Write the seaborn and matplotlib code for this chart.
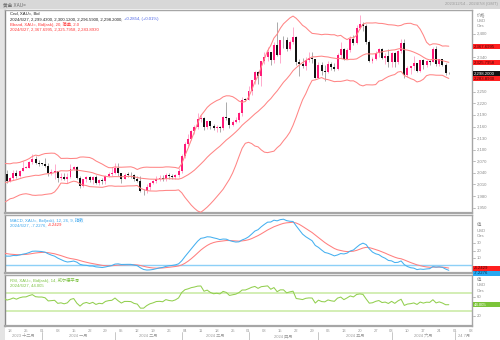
import numpy as np
import pandas as pd
import matplotlib
matplotlib.use("Agg")
import matplotlib.pyplot as plt
import seaborn as sns
from matplotlib.patches import Rectangle
from matplotlib.lines import Line2D

sns.set_style("white")
plt.rcParams["font.family"] = ["Liberation Sans", "Noto Sans CJK SC", "DejaVu Sans"]

# ---------------- data ----------------
# warm-up closes (2023-10-02 .. 2023-12-13) used only for indicator history
warm_close = [1828, 1822, 1821, 1820, 1833, 1862, 1861, 1874, 1868, 1932,
              1920, 1923, 1947, 1974, 1981, 1973, 1971, 1979, 1985, 2006,
              1996, 1983, 1982, 1985, 1992, 1978, 1970, 1950, 1958, 1940,
              1946, 1963, 1959, 1981, 1981, 1978, 2000, 1990, 1992, 2002,
              2014, 2041, 2044, 2036, 2072, 2029, 2019, 2025, 2028, 2004,
              1981, 1980, 2027]

start_date = "2023-12-14"
end_date = "2024-06-27"
axis_end_date = "2024-07-08"

opens = [2027, 2036, 2019, 2027, 2040, 2031, 2045, 2053, 2054, 2067, 2077, 2065,
         2063, 2063, 2059, 2041, 2043, 2045, 2027, 2030, 2024, 2029, 2049, 2055,
         2028, 2006, 2023, 2029, 2021, 2029, 2014, 2021, 2018, 2032, 2037,
         2039, 2054, 2039, 2025, 2035, 2035, 2034, 2024, 2020, 1992, 1992, 2004,
         2013, 2018, 2025, 2026, 2024, 2035, 2031, 2029, 2034,
         2044, 2083, 2115, 2128, 2148, 2160, 2179, 2182, 2158, 2174, 2162, 2155,
         2160, 2157, 2186, 2181, 2165, 2172, 2178, 2195, 2230,
         2230, 2251, 2280, 2300, 2290, 2329, 2339, 2352, 2333, 2372, 2344, 2383,
         2383, 2361, 2379, 2392, 2327, 2322, 2316, 2332, 2337, 2336,
         2286, 2320, 2304, 2301, 2323, 2314, 2309, 2346, 2360, 2336, 2358, 2386,
         2377, 2415, 2425, 2421, 2379, 2329, 2334, 2351, 2361, 2338, 2343,
         2327, 2350, 2327, 2355, 2376, 2294, 2311, 2316, 2325, 2304, 2333, 2319,
         2330, 2328, 2360, 2322, 2334, 2320, 2299.43]
highs = [2048, 2047, 2030, 2047, 2047, 2048, 2071, 2058, 2070, 2088, 2084, 2074,
         2065, 2078, 2065, 2050, 2064, 2046, 2041, 2040, 2040, 2062, 2059, 2057,
         2032, 2024, 2031, 2033, 2032, 2034, 2024, 2026, 2035, 2043, 2056,
         2065, 2066, 2040, 2039, 2043, 2042, 2036, 2031, 2031, 1999, 2011, 2016,
         2022, 2031, 2034, 2035, 2041, 2039, 2037, 2037, 2052,
         2088, 2119, 2141, 2152, 2165, 2195, 2189, 2185, 2175, 2175, 2167, 2164,
         2161, 2188, 2223, 2182, 2176, 2184, 2197, 2236, 2233,
         2266, 2281, 2305, 2304, 2331, 2354, 2365, 2354, 2378, 2431, 2385, 2394,
         2392, 2385, 2417, 2395, 2334, 2337, 2339, 2352, 2353, 2336,
         2326, 2326, 2319, 2331, 2326, 2324, 2351, 2378, 2364, 2363, 2394, 2396,
         2422, 2450, 2431, 2426, 2384, 2341, 2356, 2364, 2363, 2351, 2360,
         2354, 2353, 2359, 2387, 2388, 2316, 2318, 2342, 2325, 2333, 2335, 2333,
         2332, 2365, 2369, 2336, 2335, 2324, 2300.12]
lows = [2026, 2015, 2016, 2022, 2027, 2029, 2045, 2052, 2052, 2063, 2062, 2058,
        2061, 2056, 2031, 2034, 2024, 2017, 2022, 2021, 2013, 2028, 2047, 2024,
        2002, 2004, 2016, 2016, 2011, 2011, 2009, 2012, 2011, 2029, 2031,
        2037, 2031, 2014, 2023, 2030, 2027, 2019, 2017, 1990, 1984, 1988, 1996,
        2010, 2013, 2020, 2020, 2018, 2025, 2025, 2024, 2030,
        2039, 2079, 2109, 2124, 2142, 2153, 2173, 2150, 2154, 2154, 2152, 2146,
        2146, 2151, 2177, 2155, 2162, 2168, 2173, 2187, 2228,
        2229, 2241, 2269, 2269, 2266, 2321, 2329, 2319, 2325, 2342, 2324, 2364,
        2355, 2359, 2373, 2319, 2292, 2311, 2306, 2326, 2325, 2285,
        2285, 2293, 2277, 2298, 2307, 2303, 2307, 2338, 2332, 2335, 2352, 2370,
        2375, 2412, 2407, 2374, 2326, 2325, 2332, 2340, 2334, 2323, 2315,
        2315, 2314, 2323, 2351, 2287, 2288, 2297, 2306, 2301, 2302, 2310, 2314,
        2320, 2327, 2316, 2318, 2316, 2293, 2296.59]
closes = [2036, 2019, 2027, 2040, 2031, 2045, 2053, 2054, 2067, 2077, 2065, 2063,
          2063, 2059, 2041, 2043, 2045, 2027, 2030, 2024, 2029, 2049, 2055, 2028,
          2006, 2023, 2029, 2021, 2029, 2014, 2021, 2018, 2032, 2037, 2039,
          2054, 2039, 2025, 2035, 2035, 2034, 2024, 2020, 1992, 1992, 2004, 2013,
          2018, 2025, 2026, 2024, 2035, 2031, 2029, 2034, 2044,
          2083, 2115, 2128, 2148, 2160, 2179, 2182, 2158, 2174, 2162, 2155, 2160,
          2157, 2186, 2181, 2165, 2172, 2178, 2195, 2230, 2230,
          2251, 2280, 2300, 2290, 2329, 2339, 2352, 2333, 2372, 2344, 2383, 2383,
          2361, 2379, 2392, 2327, 2322, 2316, 2332, 2337, 2336, 2286,
          2320, 2304, 2301, 2323, 2314, 2309, 2346, 2360, 2336, 2358, 2386, 2377,
          2415, 2425, 2421, 2379, 2329, 2334, 2351, 2361, 2338, 2343, 2327,
          2350, 2327, 2355, 2376, 2294, 2311, 2316, 2325, 2304, 2333, 2319, 2330,
          2328, 2360, 2322, 2334, 2320, 2297.91, 2298.20]

# last values shown in legends / value boxes
price_last = [2299.4300, 2300.1200, 2296.5900, 2298.2000]
price_change = [0.2854, 0.01]
band_last = [2367.6995, 2325.7958, 2283.8930]
macd_last = [-7.2276, -4.2429]
rsi_last = 44.005

price_ticks = [1950, 1980, 2010, 2040, 2070, 2100, 2130, 2160, 2190, 2220,
               2250, 2280, 2310, 2340, 2370, 2400, 2430]
macd_ticks = [0, 10, 20, 30, 40, 50, 60]
rsi_ticks = [20, 40, 60, 80]
rsi_levels = [70, 30]
month_names = ["十二月", "一月", "二月", "三月", "四月", "五月", "六月", "7月"]

# ---------------- indicators ----------------
o = np.array(opens, float); h = np.array(highs, float)
l = np.array(lows, float); c = np.array(closes, float)
n = len(c)
allc = pd.Series(list(warm_close) + list(closes), dtype=float)
mid = allc.rolling(20).mean()
sd = allc.rolling(20).std(ddof=0)
upper = (mid + 2 * sd).values[-n:]
lower = (mid - 2 * sd).values[-n:]
mid = mid.values[-n:]
ema12 = allc.ewm(span=12, adjust=False).mean()
ema26 = allc.ewm(span=26, adjust=False).mean()
macd = ema12 - ema26
signal = macd.ewm(span=9, adjust=False).mean()
macd = macd.values[-n:]; signal = signal.values[-n:]
d = allc.diff()
gain = d.clip(lower=0).ewm(alpha=1 / 14, adjust=False).mean()
loss = (-d.clip(upper=0)).ewm(alpha=1 / 14, adjust=False).mean()
rsi = (100 - 100 / (1 + gain / loss)).values[-n:]

x = np.arange(n)
dates = pd.bdate_range(start_date, end_date)
axis_dates = pd.bdate_range(start_date, axis_end_date)

# ---------------- figure ----------------
W, H = 500, 340
fig = plt.figure(figsize=(5, 3.4), dpi=100)
fig.patch.set_facecolor("white")


def rect(x0, y0, x1, y1):
    return [x0 / W, 1 - y1 / H, (x1 - x0) / W, (y1 - y0) / H]


def ftext(px, py, s, **kw):
    kw.setdefault("fontsize", 3.1)
    return fig.text(px / W, 1 - py / H, s, **kw)


# frame decorations
fig.add_artist(Rectangle((0, 1 - 8.5 / H), 1, 8.5 / H, transform=fig.transFigure,
                         fc="#d8d8d8", ec="none", zorder=0))
fig.add_artist(Rectangle((0, 0), 4.5 / W, 1 - 8.5 / H, transform=fig.transFigure,
                         fc="#e4e4e4", ec="none", zorder=0))
ftext(3, 4.5, "黄金 XAU=", color="#666666", va="center", fontsize=3.3)
ftext(498, 4.5, "%s - 2024/7/8 (GMT)" % dates[0].strftime("%Y/%m/%d").replace("/0", "/"),
      color="#9a9a9a", ha="right", va="center", fontsize=3.0)

XL = (0.4, 147.3)
ax_p = fig.add_axes(rect(5, 9.5, 472, 213))
ax_m = fig.add_axes(rect(5, 215, 472, 273))
ax_r = fig.add_axes(rect(5, 275, 472, 326))

for ax in (ax_p, ax_m, ax_r):
    ax.set_xlim(*XL)
    ax.set_xticks([]); ax.set_yticks([])
    for s in ax.spines.values():
        s.set_color("#a6a6a6"); s.set_linewidth(1.0)
    ax.spines["bottom"].set_linewidth(1.6)
    ax.spines["left"].set_color("#8a8a8a")

# ---- price panel ----
ax_p.set_ylim(1936.2, 2463.1)
up = c > o
ax_p.vlines(x, l, h, colors=np.where(up, "#ff9cc4", "#9c9c9c"), lw=0.6, zorder=2)
body_lo = np.minimum(o, c)
body_h = np.maximum(np.abs(c - o), 1.5)
ax_p.bar(x, body_h, bottom=body_lo, width=0.62,
         color=np.where(up, "#ff1a78", "#111111"), lw=0, zorder=3)
for ser in (upper, mid, lower):
    sns.lineplot(x=x, y=ser, ax=ax_p, color="#ff8585", lw=0.75, zorder=4)

# ---- MACD panel ----
ax_m.set_ylim(-11, 69.5)
ax_m.axhline(0, color="#8dd0f7", lw=1.0, zorder=1)
sns.lineplot(x=x, y=signal, ax=ax_m, color="#ff7f7f", lw=0.75, zorder=3)
sns.lineplot(x=x, y=macd, ax=ax_m, color="#45b0f0", lw=0.75, zorder=4)

# ---- RSI panel ----
ax_r.set_ylim(-2, 108)
for lv in rsi_levels:
    ax_r.axhline(lv, color="#c8eaa0", lw=1.1, zorder=1)
sns.lineplot(x=x, y=rsi, ax=ax_r, color="#92cf4f", lw=0.75, zorder=3)

for ax in (ax_p, ax_m, ax_r):
    ax.set_xlabel(""); ax.set_ylabel("")
    if ax.get_legend():
        ax.get_legend().remove()

fig.canvas.draw()


def ypix(ax, v):
    return H - ax.transData.transform((0, v))[1]


def dodge(ys, gap=5.2):
    order = np.argsort(ys)
    out = np.array(ys, float)
    for k in range(1, len(order)):
        a, b = order[k - 1], order[k]
        if out[b] - out[a] < gap:
            out[b] = out[a] + gap
    return out


def value_boxes(ax, vals, labels, fcs, tcs):
    ys = dodge([ypix(ax, v) for v in vals])
    for yy, lab, fc, tc in zip(ys, labels, fcs, tcs):
        fig.add_artist(Rectangle((472.5 / W, 1 - (yy + 2.4) / H), 27 / W, 4.8 / H,
                                 transform=fig.transFigure, fc=fc, ec="none", zorder=5))
        ftext(474, yy, lab, color=tc, va="center", ha="left", fontsize=3.1, zorder=6)
    return ys


def axis_ticks(ax, ticks, fmt, boxes_y, y_min_hide):
    for t in ticks:
        yy = ypix(ax, t)
        bb = ax.get_window_extent()
        top_px, bot_px = H - bb.y1, H - bb.y0
        if yy < top_px + 1 or yy > bot_px - 1:
            continue
        if yy < y_min_hide:
            continue
        if any(abs(yy - b) < 5.4 for b in boxes_y):
            continue
        fig.add_artist(Line2D([472.5 / W, 475 / W], [1 - yy / H] * 2, transform=fig.transFigure,
                              color="#a0a0a0", lw=0.5))
        ftext(476.5, yy, fmt(t), color="#8c8c8c", va="center", ha="left", fontsize=3.1)


def unit_header(y0, first):
    ftext(476.5, y0, first, color="#8c8c8c", va="center", fontsize=3.1)
    ftext(476.5, y0 + 5.5, "USD", color="#8c8c8c", va="center", fontsize=3.1)
    ftext(476.5, y0 + 11, "Ozs", color="#8c8c8c", va="center", fontsize=3.1)


# price value boxes
pb = value_boxes(ax_p, [band_last[0], band_last[1], price_last[3], band_last[2]],
                 ["%s" % format(band_last[0], ",.4f"), format(band_last[1], ",.4f"),
                  format(price_last[3], ",.4f"), format(band_last[2], ",.4f")],
                 ["#ff2020", "#ff2020", "#111111", "#ff2020"],
                 ["#4a0000", "#4a0000", "white", "#4a0000"])
unit_header(15, "价格")
axis_ticks(ax_p, price_ticks, lambda t: format(t, ",d"), pb, 31)

mb = value_boxes(ax_m, [macd_last[1], macd_last[0]],
                 ["%.4f" % macd_last[1], "%.4f" % macd_last[0]],
                 ["#ff2020", "#28a8f0"], ["#4a0000", "#002a4a"])
unit_header(225, "值")
axis_ticks(ax_m, macd_ticks, lambda t: "%d" % t, mb, 241)

rb = value_boxes(ax_r, [rsi_last], ["%.3f" % rsi_last], ["#7cc43a"], ["white"])
unit_header(280, "值")
axis_ticks(ax_r, rsi_ticks, lambda t: "%d" % t, rb, 297)

# ---- legends (headers) ----
date_s = "%d/%d/%d" % (dates[-1].year, dates[-1].month, dates[-1].day)
ftext(10, 14, "Cnd, XAU=, Bid", color="#222222", va="center")
t1 = ftext(10, 19.2, "%s, %s, %s, %s, %s, " % ((date_s,) + tuple(format(v, ",.4f") for v in price_last)),
           color="#222222", va="center")
fig.canvas.draw()
bb = t1.get_window_extent()
ftext(bb.x1 + 0.5, 19.2, "+%.4f, (+%.2f%%)" % tuple(price_change), color="#4b63e6", va="center")
ftext(10, 24.4, "Bband, XAU=, Bid(ask), 20, 简单, 2.0", color="#ff3535", va="center")
ftext(10, 29.6, "%s, %s, %s, %s" % ((date_s,) + tuple(format(v, ",.4f") for v in band_last)),
      color="#ff3535", va="center")

ftext(10, 220, "MACD, XAU=, Bid(ask), 12, 26, 9, 指数", color="#3aa6ee", va="center")
t2 = ftext(10, 225.2, "%s, %.4f, " % (date_s, macd_last[0]), color="#3aa6ee", va="center")
fig.canvas.draw()
bb = t2.get_window_extent()
ftext(bb.x1 + 0.5, 225.2, "%.4f" % macd_last[1], color="#ff3535", va="center")

ftext(10, 280.5, "RSI, XAU=, Bid(ask), 14, 威尔德平滑", color="#7cc242", va="center")
ftext(10, 285.7, "%s, %.3f" % (date_s, rsi_last), color="#7cc242", va="center")

# ---- date axis ----
pos = {dd: i for i, dd in enumerate(axis_dates)}
for dd, i in pos.items():
    xpx = ax_r.transData.transform((i, 0))[0]
    if dd.weekday() == 0 and 6 < xpx < 472:
        ftext(xpx, 331, "%02d" % dd.day, color="#9a9a9a", ha="center", va="center", fontsize=3.0)
month_starts = []
prev = None
for dd, i in pos.items():
    if prev is None or dd.month != prev:
        month_starts.append((dd, i))
    prev = dd.month
edges = []
for dd, i in month_starts:
    xpx = ax_r.transData.transform((i, 0))[0]
    edges.append((dd, max(xpx, 5)))
edges.append((None, 472))
for k in range(len(edges) - 1):
    dd, x0 = edges[k]
    x1 = edges[k + 1][1]
    if k > 0:
        fig.add_artist(Line2D([x0 / W] * 2, [1 - 332 / H, 1 - 340 / H], transform=fig.transFigure,
                              color="#b0b0b0", lw=0.5))
    lab = "%d %s" % (dd.year, month_names[k]) if k < len(month_names) - 1 else "24 %s" % month_names[k]
    ftext((x0 + x1) / 2, 336, lab, color="#9a9a9a", ha="center", va="center", fontsize=3.0)

fig.savefig("out.png", dpi=100)
